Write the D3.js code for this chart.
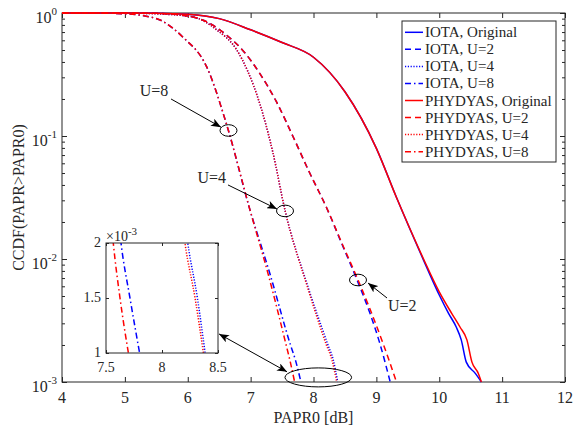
<!DOCTYPE html>
<html>
<head>
<meta charset="utf-8">
<script src="https://cdn.jsdelivr.net/npm/d3@7/dist/d3.min.js"></script>
<style>
body { margin: 0; background: #fff; }
svg text { font-family: "Liberation Serif", "Times New Roman", serif; fill: #262626; }
</style>
</head>
<body>
<div id="chart"></div>
<script>

// CCDF curves: [PAPR0 in dB, CCDF]
var iotaOriginal = [[4,1],[5,1],[5.5,0.997],[6,0.977],[6.5,0.9],[7,0.73],[7.5,0.575],[8,0.437],[8.5,0.229],[9,0.0794],[9.32,0.0316],[9.75,0.0098],[10,0.0051],[10.15,0.0036],[10.27,0.0028],[10.35,0.0022],[10.43,0.00145],[10.57,0.00118],[10.67,0.001]];
var iotaU2 = [[4,1],[5,1],[5.5,0.995],[5.92,0.96],[6.3,0.85],[6.62,0.66],[6.9,0.48],[7.15,0.32],[7.41,0.19],[7.67,0.1],[7.94,0.05],[8.21,0.026],[8.45,0.0133],[8.69,0.0068],[8.9,0.0036],[9.05,0.0021],[9.22,0.001]];
var iotaU4 = [[4,1],[5,0.998],[5.5,0.985],[6.08,0.93],[6.46,0.73],[6.78,0.5],[6.95,0.34],[7.15,0.18],[7.35,0.075],[7.55,0.0245],[7.9,0.0062],[8.23,0.002],[8.316,0.0015],[8.385,0.001]];
var iotaU8 = [[4,1],[4.5,0.999],[5,0.985],[5.3,0.95],[5.56,0.877],[5.92,0.638],[6.3,0.366],[6.62,0.123],[6.99,0.025],[7.3,0.0078],[7.634,0.002],[7.714,0.0015],[7.8,0.001]];

var phydyasOriginal = [[4,1],[5,1],[5.5,0.997],[6,0.977],[6.5,0.9],[7,0.73],[7.5,0.575],[8,0.437],[8.5,0.229],[9,0.0794],[9.32,0.0316],[9.75,0.01],[10,0.0054],[10.2,0.0036],[10.33,0.0028],[10.44,0.0022],[10.52,0.00145],[10.62,0.00118],[10.67,0.001]];
var phydyasU2 = [[4,1],[5,1],[5.5,0.995],[5.92,0.96],[6.3,0.85],[6.62,0.66],[6.9,0.48],[7.15,0.32],[7.41,0.19],[7.67,0.1],[7.94,0.05],[8.21,0.026],[8.45,0.0135],[8.69,0.0071],[8.9,0.0039],[9.1,0.0021],[9.32,0.001]];
var phydyasU4 = [[4,1],[5,0.998],[5.5,0.985],[6.08,0.93],[6.46,0.73],[6.78,0.5],[6.95,0.34],[7.15,0.18],[7.35,0.075],[7.55,0.0245],[7.9,0.006],[8.205,0.002],[8.295,0.0015],[8.37,0.001]];
var phydyasU8 = [[4,1],[4.5,0.999],[5,0.985],[5.3,0.95],[5.56,0.877],[5.92,0.638],[6.3,0.366],[6.62,0.123],[6.99,0.025],[7.28,0.0075],[7.565,0.002],[7.625,0.0015],[7.7,0.001]];

var seriesNames = ["IOTA, Original", "IOTA, U=2", "IOTA, U=4", "IOTA, U=8",
                   "PHYDYAS, Original", "PHYDYAS, U=2", "PHYDYAS, U=4", "PHYDYAS, U=8"];
var seriesData = [iotaOriginal, iotaU2, iotaU4, iotaU8,
                  phydyasOriginal, phydyasU2, phydyasU4, phydyasU8];

var xTicks = [4, 5, 6, 7, 8, 9, 10, 11, 12];
var yTickExponents = [0, -1, -2, -3];
var insetXTicks = [7.5, 8, 8.5];
var insetYTicks = [1, 1.5, 2];   // in units of 10^-3

// annotations, in data coordinates
var callouts = [
    { label: "U=8", lx: 5.69, ly: 0.211, anchor: "end",   from: [5.734, 0.2],    to: [6.529, 0.118],  ring: [6.648, 0.1109] },
    { label: "U=4", lx: 6.61, ly: 0.0415, anchor: "end",  from: [6.64, 0.04],    to: [7.419, 0.0255], ring: [7.547, 0.0246] },
    { label: "U=2", lx: 9.185, ly: 0.00378, anchor: "start", from: [9.169, 0.00482], to: [8.867, 0.00638], ring: [8.708, 0.00675] }
];

// line styles
var colors = ["#0000ff", "#0000ff", "#0000ff", "#0000ff", "#ff0000", "#ff0000", "#ff0000", "#ff0000"];
var dashes = [null, "6,4", "1.2,1.6", "6,3,1.5,3", null, "6,4", "1.2,1.6", "6,3,1.5,3"];

var margin = { top: 13, right: 9, bottom: 49, left: 62 };
var width = 574 - margin.left - margin.right,
    height = 431 - margin.top - margin.bottom;
var axisColor = "#262626";

var svg = d3.select("#chart").append("svg")
    .attr("width", 574)
    .attr("height", 431);

var defs = svg.append("defs");
defs.append("marker")
    .attr("id", "arrow")
    .attr("markerUnits", "userSpaceOnUse")
    .attr("markerWidth", 11).attr("markerHeight", 8)
    .attr("refX", 10).attr("refY", 4)
    .attr("orient", "auto-start-reverse")
  .append("path")
    .attr("d", "M0,0 L10,4 L0,8 L2.5,4 Z")
    .attr("fill", "#000");

defs.append("clipPath").attr("id", "plotClip")
  .append("rect").attr("x", -1).attr("y", -2).attr("width", width + 2).attr("height", height + 3);

var g = svg.append("g").attr("transform", "translate(" + margin.left + "," + margin.top + ")");

var x = d3.scaleLinear().domain([4, 12]).range([0, width]);
var y = d3.scaleLog().domain([1e-3, 1]).range([height, 0]);

// frame
g.append("rect")
    .attr("width", width).attr("height", height)
    .attr("fill", "none").attr("stroke", axisColor).attr("stroke-width", 1);

// ticks (pointing inward on all four sides)
function noDomain(sel) { sel.select(".domain").remove(); sel.selectAll(".tick line").attr("stroke", axisColor); }

g.append("g").attr("transform", "translate(0," + height + ")")
    .call(d3.axisBottom(x).tickValues(xTicks).tickSize(-5).tickFormat(""))
    .call(noDomain);
g.append("g")
    .call(d3.axisTop(x).tickValues(xTicks).tickSize(-5).tickFormat(""))
    .call(noDomain);

var majorY = yTickExponents.map(function(e) { return Math.pow(10, e); });
var minorY = [];
[-3, -2, -1].forEach(function(e) {
    for (var k = 2; k <= 9; k++) minorY.push(k * Math.pow(10, e));
});

g.append("g").call(d3.axisLeft(y).tickValues(majorY).tickSize(-5).tickFormat("")).call(noDomain);
g.append("g").call(d3.axisLeft(y).tickValues(minorY).tickSize(-3).tickFormat("")).call(noDomain);
g.append("g").attr("transform", "translate(" + width + ",0)")
    .call(d3.axisRight(y).tickValues(majorY).tickSize(-5).tickFormat("")).call(noDomain);
g.append("g").attr("transform", "translate(" + width + ",0)")
    .call(d3.axisRight(y).tickValues(minorY).tickSize(-3).tickFormat("")).call(noDomain);

// x tick labels
g.selectAll(".xlab").data(xTicks).enter().append("text")
    .attr("class", "xlab")
    .attr("x", function(d) { return x(d); })
    .attr("y", height + 21)
    .attr("text-anchor", "middle")
    .style("font-size", "16px")
    .text(function(d) { return d; });

// y tick labels 10^e
var ylab = g.selectAll(".ylab").data(yTickExponents).enter().append("text")
    .attr("class", "ylab")
    .attr("x", -5)
    .attr("y", function(d) { return y(Math.pow(10, d)) + 10; })
    .attr("text-anchor", "end")
    .style("font-size", "16px");
ylab.append("tspan").text("10");
ylab.append("tspan").attr("dy", -8).style("font-size", "11px").text(function(d) { return d; });

// axis titles
g.append("text")
    .attr("x", width / 2).attr("y", height + 41)
    .attr("text-anchor", "middle")
    .style("font-size", "16px")
    .text("PAPR0 [dB]");
g.append("text")
    .attr("transform", "translate(" + (24 - margin.left) + "," + (height / 2) + ") rotate(-90)")
    .attr("text-anchor", "middle")
    .style("font-size", "16px")
    .text("CCDF(PAPR>PAPR0)");

// curves
var line = d3.line()
    .x(function(d) { return x(d[0]); })
    .y(function(d) { return y(d[1]); })
    .curve(d3.curveMonotoneX);

g.append("g").attr("clip-path", "url(#plotClip)")
  .selectAll(".curve").data(seriesData).enter().append("path")
    .attr("class", "curve")
    .attr("d", line)
    .attr("fill", "none")
    .attr("stroke", function(d, i) { return colors[i]; })
    .attr("stroke-width", 1.5)
    .attr("stroke-dasharray", function(d, i) { return dashes[i]; });

// callouts: label, arrow and a small ring on the curve
callouts.forEach(function(c) {
    g.append("text")
        .attr("x", x(c.lx)).attr("y", y(c.ly))
        .attr("text-anchor", c.anchor)
        .style("font-size", "16px")
        .text(c.label);
    g.append("line")
        .attr("x1", x(c.from[0])).attr("y1", y(c.from[1]))
        .attr("x2", x(c.to[0])).attr("y2", y(c.to[1]))
        .attr("stroke", "#000").attr("stroke-width", 1)
        .attr("marker-end", "url(#arrow)");
    g.append("ellipse")
        .attr("cx", x(c.ring[0])).attr("cy", y(c.ring[1]))
        .attr("rx", 8.5).attr("ry", 5.8)
        .attr("fill", "none").attr("stroke", "#000").attr("stroke-width", 1);
});

// zoom region at the bottom
g.append("ellipse")
    .attr("cx", x(8.076)).attr("cy", y(0.00109))
    .attr("rx", 33.3).attr("ry", 9.5)
    .attr("fill", "none").attr("stroke", "#000").attr("stroke-width", 1);

// inset
var inset = { left: 106, top: 243, width: 112, height: 110 };
var xi = d3.scaleLinear().domain([7.5, 8.5]).range([0, inset.width]);
var yi = d3.scaleLinear().domain([1e-3, 2e-3]).range([inset.height, 0]);

var gi = svg.append("g").attr("transform", "translate(" + inset.left + "," + inset.top + ")");
defs.append("clipPath").attr("id", "insetClip")
  .append("rect").attr("width", inset.width).attr("height", inset.height);

gi.append("rect")
    .attr("width", inset.width).attr("height", inset.height)
    .attr("fill", "#fff");

var insetLine = d3.line()
    .x(function(d) { return xi(d[0]); })
    .y(function(d) { return yi(d[1]); })
    .curve(d3.curveMonotoneX);

gi.append("g").attr("clip-path", "url(#insetClip)")
  .selectAll(".icurve").data(seriesData).enter().append("path")
    .attr("class", "icurve")
    .attr("d", insetLine)
    .attr("fill", "none")
    .attr("stroke", function(d, i) { return colors[i]; })
    .attr("stroke-width", 1.5)
    .attr("stroke-dasharray", function(d, i) { return dashes[i]; });

gi.append("rect")
    .attr("width", inset.width).attr("height", inset.height)
    .attr("fill", "none").attr("stroke", axisColor).attr("stroke-width", 1);

var insetYVals = insetYTicks.map(function(v) { return v * 1e-3; });
gi.append("g").attr("transform", "translate(0," + inset.height + ")")
    .call(d3.axisBottom(xi).tickValues(insetXTicks).tickSize(-3).tickFormat("")).call(noDomain);
gi.append("g")
    .call(d3.axisTop(xi).tickValues(insetXTicks).tickSize(-3).tickFormat("")).call(noDomain);
gi.append("g")
    .call(d3.axisLeft(yi).tickValues(insetYVals).tickSize(-3).tickFormat("")).call(noDomain);
gi.append("g").attr("transform", "translate(" + inset.width + ",0)")
    .call(d3.axisRight(yi).tickValues(insetYVals).tickSize(-3).tickFormat("")).call(noDomain);

gi.selectAll(".ixlab").data(insetXTicks).enter().append("text")
    .attr("x", function(d) { return xi(d); })
    .attr("y", inset.height + 19)
    .attr("text-anchor", "middle")
    .style("font-size", "14px")
    .text(function(d) { return d; });
gi.selectAll(".iylab").data(insetYTicks).enter().append("text")
    .attr("x", -5)
    .attr("y", function(d) { return yi(d * 1e-3) + 4; })
    .attr("text-anchor", "end")
    .style("font-size", "14px")
    .text(function(d) { return d; });

var expo = gi.append("text").attr("x", 0).attr("y", -2).style("font-size", "14px");
expo.append("tspan").text("\u00d710");
expo.append("tspan").attr("dy", -6).style("font-size", "11px").text("-3");

// double-headed arrow from the inset to the zoomed region
g.append("line")
    .attr("x1", x(6.497)).attr("y1", y(0.00246))
    .attr("x2", x(7.579)).attr("y2", y(0.00121))
    .attr("stroke", "#000").attr("stroke-width", 1)
    .attr("marker-start", "url(#arrow)")
    .attr("marker-end", "url(#arrow)");

// legend
var legend = svg.append("g").attr("transform", "translate(402,21)");
legend.append("rect")
    .attr("width", 154).attr("height", 141)
    .attr("fill", "#fff").attr("stroke", axisColor).attr("stroke-width", 1);

var rows = legend.selectAll(".row").data(seriesNames).enter().append("g")
    .attr("class", "row")
    .attr("transform", function(d, i) { return "translate(0," + (11.3 + i * 17.05) + ")"; });
rows.append("line")
    .attr("x1", 3).attr("x2", 21)
    .attr("stroke", function(d, i) { return colors[i]; })
    .attr("stroke-width", 1.5)
    .attr("stroke-dasharray", function(d, i) { return dashes[i]; });
rows.append("text")
    .attr("x", 23).attr("y", 5)
    .style("font-size", "15px")
    .text(function(d) { return d; });

</script>
</body>
</html>
